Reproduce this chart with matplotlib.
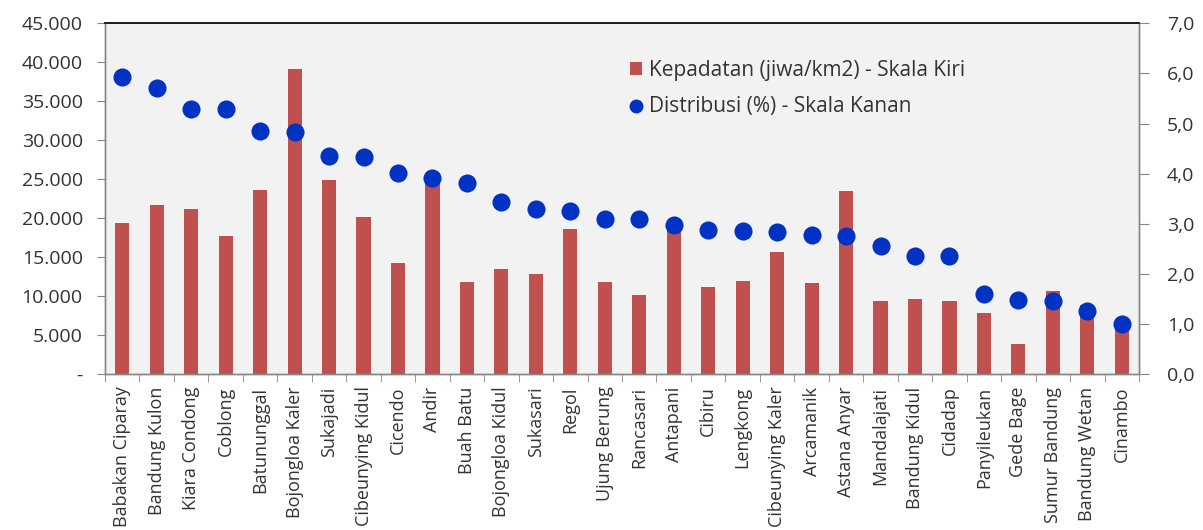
import matplotlib
matplotlib.use("Agg")
import matplotlib.pyplot as plt
from matplotlib.ticker import FixedLocator, FuncFormatter, NullFormatter
from matplotlib.lines import Line2D
from matplotlib.patches import Patch

kecamatan = [
    "Babakan Ciparay", "Bandung Kulon", "Kiara Condong", "Coblong", "Batununggal",
    "Bojongloa Kaler", "Sukajadi", "Cibeunying Kidul", "Cicendo", "Andir",
    "Buah Batu", "Bojongloa Kidul", "Sukasari", "Regol", "Ujung Berung",
    "Rancasari", "Antapani", "Cibiru", "Lengkong", "Cibeunying Kaler",
    "Arcamanik", "Astana Anyar", "Mandalajati", "Bandung Kidul", "Cidadap",
    "Panyileukan", "Gede Bage", "Sumur Bandung", "Bandung Wetan", "Cinambo",
]
kepadatan = [
    19400, 21700, 21200, 17700, 23600, 39200, 24900, 20200, 14200, 24800,
    11800, 13500, 12800, 18600, 11800, 10200, 19000, 11200, 11900, 15600,
    11700, 23500, 9400, 9600, 9400, 7800, 3800, 10600, 8800, 6000,
]
distribusi = [
    5.92, 5.71, 5.29, 5.29, 4.86, 4.84, 4.36, 4.34, 4.01, 3.92,
    3.81, 3.43, 3.29, 3.26, 3.09, 3.09, 2.98, 2.88, 2.86, 2.83,
    2.77, 2.75, 2.55, 2.36, 2.36, 1.60, 1.48, 1.45, 1.25, 1.00,
]
left_ticks = [0, 5000, 10000, 15000, 20000, 25000, 30000, 35000, 40000, 45000]
right_ticks = [0, 1, 2, 3, 4, 5, 6, 7]

label_bar = "Kepadatan (jiwa/km2) - Skala Kiri"
label_dot = "Distribusi (%) - Skala Kanan"

plt.rcParams["font.family"] = ["Open Sans", "DejaVu Sans"]

BAR_RED = "#C0504D"
DOT_BLUE = "#0033C4"
AXIS_GRAY = "#868686"
TEXT = "#333333"

fig = plt.figure(figsize=(12.03, 5.30), dpi=100)
ax = fig.add_axes([0.0873, 0.2943, 0.8595, 0.6617])
ax.set_facecolor("#F2F2F2")
ax2 = ax.twinx()

x = list(range(len(kecamatan)))
ax.bar(x, kepadatan, width=0.41, color=BAR_RED, zorder=2)
ax2.scatter(x, distribusi, s=170, color=DOT_BLUE, zorder=3, linewidths=0)

ax.set_xlim(-0.5, len(kecamatan) - 0.5)
ax.set_ylim(0, 45000)
ax2.set_ylim(0, 7)

def fmt_left(v, pos):
    if v == 0:
        return "-"
    return f"{int(v):,}".replace(",", ".")

ax.yaxis.set_major_locator(FixedLocator(left_ticks))
ax.yaxis.set_major_formatter(FuncFormatter(fmt_left))
ax2.yaxis.set_major_locator(FixedLocator(right_ticks))
ax2.yaxis.set_major_formatter(FuncFormatter(lambda v, p: f"{v:.1f}".replace(".", ",")))

# category labels at centres, tick marks on the boundaries
ax.set_xticks(x)
ax.set_xticklabels(kecamatan, rotation=90, fontsize=13, color=TEXT)
ax.tick_params(axis="x", which="major", length=0, pad=9)
ax.set_xticks([i - 0.5 for i in range(len(kecamatan) + 1)], minor=True)
ax.xaxis.set_minor_formatter(NullFormatter())
ax.tick_params(axis="x", which="minor", length=6, color=AXIS_GRAY, direction="out")

ax.tick_params(axis="y", length=6, color=AXIS_GRAY, labelsize=14, labelcolor=TEXT, pad=10)
ax2.tick_params(axis="y", length=7, color=AXIS_GRAY, labelsize=14, labelcolor=TEXT, pad=13)

for a in (ax, ax2):
    for side in ("left", "right", "bottom"):
        a.spines[side].set_color(AXIS_GRAY)
        a.spines[side].set_linewidth(1.0)
    a.spines["top"].set_color("#1a1a1a")
    a.spines["top"].set_linewidth(1.2)

handles = [
    Patch(facecolor=BAR_RED, edgecolor="none", label=label_bar),
    Line2D([], [], marker="o", linestyle="none", markersize=10,
           markerfacecolor=DOT_BLUE, markeredgewidth=0, label=label_dot),
]
leg = ax2.legend(handles=handles, loc="upper left", bbox_to_anchor=(0.5, 0.92),
                 frameon=False, fontsize=15, handlelength=0.55, handleheight=0.55,
                 handletextpad=0.35, labelspacing=0.75, labelcolor=TEXT,
                 borderaxespad=0)

fig.savefig("out.png", dpi=100, facecolor="white")
